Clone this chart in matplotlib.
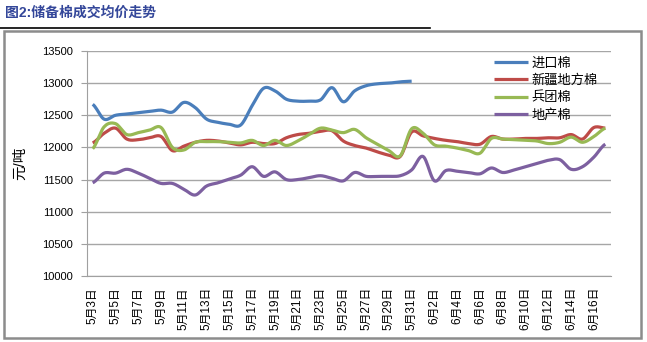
import numpy as np
import matplotlib
matplotlib.use("Agg")
import matplotlib.pyplot as plt
from matplotlib.patches import Rectangle
from matplotlib.lines import Line2D

plt.rcParams['font.family'] = ['Liberation Sans', 'Noto Sans CJK SC', 'DejaVu Sans']

# --- data ---
dates = [f"5月{d}日" for d in range(3, 32)] + [f"6月{d}日" for d in range(1, 18)]

imported = [12670, 12440, 12500, 12520, 12540, 12560, 12580, 12550, 12700, 12620,
            12440, 12390, 12360, 12350, 12650, 12920, 12880, 12750, 12720, 12720,
            12740, 12930, 12710, 12880, 12960, 12990, 13000, 13020, 13030]
xinjiang = [12070, 12220, 12300, 12130, 12120, 12150, 12170, 11950, 12020, 12080,
            12110, 12100, 12070, 12040, 12080, 12060, 12060, 12150, 12200, 12220,
            12250, 12260, 12100, 12030, 11990, 11930, 11880, 11860, 12240, 12180,
            12140, 12110, 12090, 12060, 12050, 12170, 12130, 12130, 12140, 12140,
            12150, 12150, 12200, 12130, 12310, 12300]
bingtuan = [11980, 12320, 12370, 12200, 12230, 12270, 12310, 12000, 11960, 12080,
            12090, 12090, 12080, 12070, 12110, 12030, 12110, 12030, 12100, 12200,
            12300, 12270, 12230, 12280, 12150, 12050, 11950, 11870, 12290, 12220,
            12040, 12020, 11990, 11950, 11910, 12140, 12130, 12120, 12110, 12100,
            12060, 12080, 12160, 12080, 12170, 12300]
local = [11450, 11600, 11600, 11660, 11600, 11520, 11440, 11440, 11350, 11260,
         11400, 11450, 11510, 11570, 11700, 11550, 11620, 11500, 11500, 11530,
         11560, 11520, 11480, 11610, 11550, 11550, 11550, 11560, 11650, 11860,
         11480, 11640, 11630, 11610, 11590, 11680, 11610, 11650, 11700, 11750,
         11800, 11810, 11660, 11700, 11850, 12050]

series = [("进口棉", imported, "#4A7EBB"),
          ("新疆地方棉", xinjiang, "#BE4B48"),
          ("兵团棉", bingtuan, "#98B954"),
          ("地产棉", local, "#7D60A0")]


def smooth(y, n=12):
    # Catmull-Rom curve through the points (like Excel's smoothed line)
    y = np.asarray(y, dtype=float)
    x = np.arange(len(y), dtype=float)
    p = np.concatenate([[y[0]], y, [y[-1]]])
    px = np.concatenate([[x[0] - 1], x, [x[-1] + 1]])
    xs, ys = [], []
    t = np.linspace(0, 1, n, endpoint=False)
    for i in range(1, len(p) - 2):
        for arr, out in ((px, xs), (p, ys)):
            p0, p1, p2, p3 = arr[i - 1], arr[i], arr[i + 1], arr[i + 2]
            out.extend(0.5 * (2 * p1 + (-p0 + p2) * t
                              + (2 * p0 - 5 * p1 + 4 * p2 - p3) * t ** 2
                              + (-p0 + 3 * p1 - 3 * p2 + p3) * t ** 3))
    xs.append(x[-1])
    ys.append(y[-1])
    return np.array(xs), np.array(ys)


W, H = 647, 342
fig = plt.figure(figsize=(W / 100, H / 100), dpi=100)

# title + rule + frame
fig.text(5 / W, 1 - 13 / H, "图2:储备棉成交均价走势", fontsize=10, fontweight='bold',
         color="#34479A", va='center', ha='left')
fig.add_artist(Line2D([0, 430 / W], [1 - 28 / H, 1 - 28 / H], color='black', lw=1.2))
fig.add_artist(Rectangle((4 / W, 1 - 338 / H), 637 / W, 307 / H, fill=False,
                         edgecolor='#8C8C8C', lw=1.8))

ax = fig.add_axes([87 / W, 1 - 276 / H, 524 / W, 225 / H])
for name, vals, col in series:
    sx, sy = smooth(vals)
    ax.plot(sx, sy, color=col, lw=2.3, label=name, solid_capstyle='butt')

ax.set_xlim(-0.5, len(dates) - 0.5)
ax.set_ylim(10000, 13500)
ax.set_yticks(np.arange(10000, 13501, 500))
ax.set_xticks(range(0, len(dates), 2))
ax.set_xticklabels(dates[::2], rotation=90, fontsize=8.5)
ax.tick_params(axis='y', labelsize=8, length=4, color='#A0A0A0', pad=6)
ax.tick_params(axis='x', length=0, pad=8)
ax.grid(axis='y', color='#A6A6A6', lw=1)
ax.set_axisbelow(True)
for s in ['top', 'right']:
    ax.spines[s].set_visible(False)
ax.spines['left'].set_color('#A0A0A0')
ax.spines['bottom'].set_color('#A0A0A0')
ax.set_ylabel("元/吨", fontsize=10.5)
ax.yaxis.set_label_coords(-60 / 524, 0.5)

ax.legend(loc='upper left', bbox_to_anchor=(400 / 524, 1.0), frameon=False,
          fontsize=9.5, handlelength=2.6, handletextpad=0.3, labelspacing=0.35,
          borderaxespad=0.1)

fig.savefig("out.png", dpi=100)
